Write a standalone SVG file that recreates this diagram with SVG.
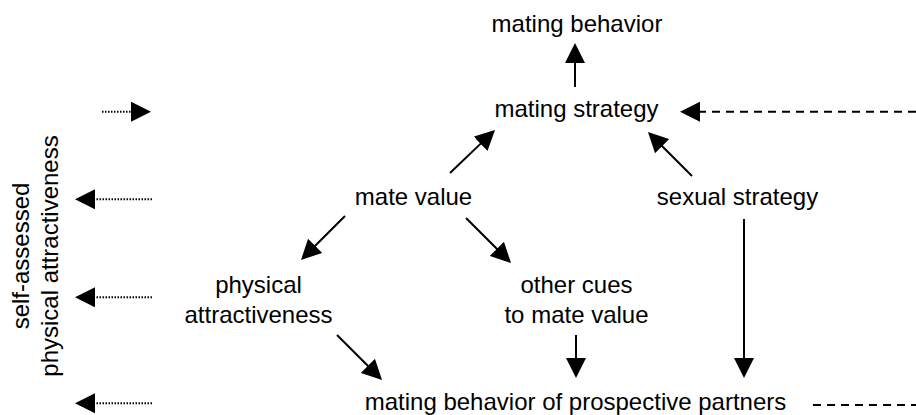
<svg xmlns="http://www.w3.org/2000/svg" width="916" height="415" viewBox="0 0 916 415">
<style>
text { font-family: "Liberation Sans", Arial, sans-serif; font-size: 24px; fill: #000; text-anchor: middle; }
.c { stroke: #000; stroke-width: 2; fill: none; marker-end: url(#ah); }
.dash { stroke-dasharray: 8 6; }
.dot { stroke-dasharray: 1.5 1.5; }
.plain { stroke: #000; stroke-width: 2; fill: none; }
</style>
<defs>
<marker id="ah" markerUnits="userSpaceOnUse" markerWidth="20" markerHeight="20" viewBox="0 0 20 20" refX="2" refY="10" orient="auto">
<path d="M0,0 L20,10 L0,20 Z" fill="#000"/>
</marker>
</defs>
<rect width="916" height="415" fill="#fff"/>
<g id="node-self-assessed">
<text transform="translate(28.5,256) rotate(-90)">self-assessed</text>
<text transform="translate(58,256) rotate(-90)">physical attractiveness</text>
</g>
<g id="node-mating-behavior"><text x="577" y="32">mating behavior</text></g>
<g id="node-mating-strategy"><text x="576.5" y="117">mating strategy</text></g>
<g id="node-mate-value"><text x="413.5" y="205">mate value</text></g>
<g id="node-sexual-strategy"><text x="737.5" y="205">sexual strategy</text></g>
<g id="node-physical-attractiveness"><text x="258.5" y="293">physical</text><text x="258.5" y="323">attractiveness</text></g>
<g id="node-other-cues"><text x="576.5" y="293">other cues</text><text x="576.5" y="323">to mate value</text></g>
<g id="node-prospective"><text x="575.5" y="410">mating behavior of prospective partners</text></g>
<g id="connectors">
<line class="c" x1="575" y1="87" x2="575" y2="61"/>
<line class="c" x1="450" y1="173" x2="482" y2="142.4"/>
<line class="c" x1="692" y1="176" x2="660.7" y2="144.7"/>
<line class="c" x1="345" y1="216" x2="313.7" y2="247.3"/>
<line class="c" x1="466" y1="218" x2="498.3" y2="250.3"/>
<line class="c" x1="337" y1="335" x2="369.3" y2="367.3"/>
<line class="c" x1="576" y1="335" x2="576" y2="360"/>
<line class="c" x1="744" y1="219" x2="744" y2="360"/>
<line class="c dash" x1="916" y1="111.7" x2="698" y2="111.7"/>
<line class="plain dash" x1="813" y1="405" x2="916" y2="405"/>
<line class="c dot" x1="102" y1="111.7" x2="133" y2="111.7"/>
<line class="c dot" x1="152" y1="199.3" x2="93" y2="199.3"/>
<line class="c dot" x1="152" y1="297.3" x2="93" y2="297.3"/>
<line class="c dot" x1="152" y1="403.3" x2="93" y2="403.3"/>
</g>
</svg>
